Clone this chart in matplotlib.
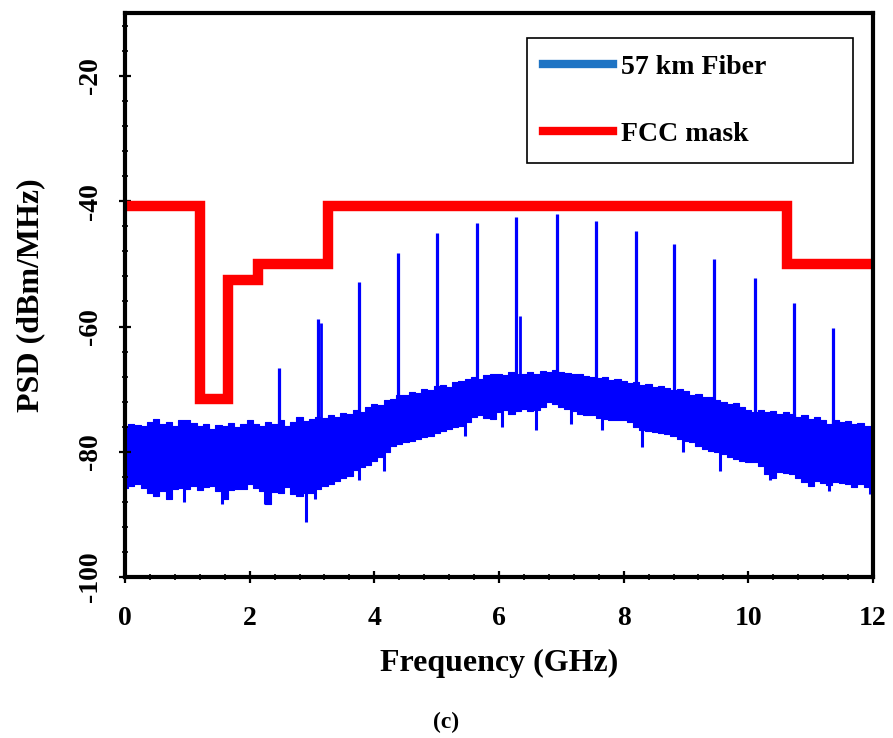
import matplotlib

matplotlib.use("Agg")

import matplotlib.pyplot as plt
import numpy as np
from matplotlib.lines import Line2D
from matplotlib.ticker import MultipleLocator

plt.rcParams["font.family"] = ["Liberation Serif", "DejaVu Serif"]
plt.rcParams["font.weight"] = "bold"
plt.rcParams["axes.unicode_minus"] = False

# noise floor envelope, read every 0.1 GHz from 0 to 12 GHz
freq_grid = np.round(np.arange(0, 12.05, 0.1), 2)
floor_upper = [
    -75.8, -75.6, -75.7, -75.9, -75.3, -74.7, -75.6, -75.2, -75.8, -75.0,
    -74.9, -75.4, -75.8, -75.6, -76.3, -75.7, -75.8, -75.4, -76.0, -75.6,
    -75.0, -75.5, -75.8, -75.2, -75.6, -75.0, -75.9, -75.3, -74.5, -75.1,
    -74.8, -74.4, -74.6, -74.1, -74.5, -73.8, -74.0, -73.3, -73.6, -72.8,
    -72.4, -72.6, -71.8, -71.6, -71.0, -70.9, -70.4, -70.6, -69.9, -70.1,
    -69.5, -69.3, -69.6, -68.8, -68.7, -68.4, -68.1, -68.3, -67.7, -67.5,
    -67.6, -67.8, -67.3, -67.5, -67.6, -67.2, -67.5, -67.1, -67.3, -67.0,
    -67.2, -67.4, -67.6, -67.5, -67.9, -68.0, -68.2, -68.0, -68.5, -68.4,
    -68.7, -69.0, -68.8, -69.3, -69.1, -69.6, -69.5, -69.8, -70.2, -69.9,
    -70.3, -71.0, -70.8, -71.3, -71.2, -71.8, -72.1, -72.4, -72.2, -72.9,
    -73.4, -73.7, -73.3, -73.6, -73.5, -73.9, -73.6, -74.0, -74.4, -74.2,
    -74.7, -74.5, -75.0, -75.6, -74.9, -75.3, -75.1, -75.6, -75.4, -75.8,
    -75.8,
]
floor_lower = [
    -85.7, -85.5, -85.2, -85.8, -86.5, -87.0, -86.2, -87.5, -86.0, -85.8,
    -86.0, -85.4, -86.1, -85.6, -85.5, -86.2, -87.5, -86.1, -85.9, -86.0,
    -85.1, -85.7, -86.3, -88.3, -86.4, -86.6, -85.6, -86.7, -87.0, -86.5,
    -86.6, -85.9, -85.4, -85.2, -84.6, -84.1, -83.8, -82.9, -82.5, -82.1,
    -81.4, -80.8, -80.0, -79.0, -78.8, -78.4, -78.2, -78.0, -77.7, -77.4,
    -77.0, -76.6, -76.4, -76.0, -75.8, -75.2, -74.4, -74.2, -74.6, -74.7,
    -73.6, -73.4, -74.0, -73.5, -73.2, -73.5, -73.4, -72.8, -72.1, -72.3,
    -72.8, -73.1, -73.5, -74.0, -74.2, -74.1, -74.6, -74.8, -75.0, -74.9,
    -75.0, -75.2, -76.0, -76.5, -76.6, -76.8, -77.0, -77.1, -77.4, -78.0,
    -78.2, -78.5, -79.0, -79.5, -79.8, -80.0, -80.3, -80.8, -81.2, -81.4,
    -81.6, -81.7, -82.3, -83.6, -84.1, -83.3, -83.4, -83.5, -84.2, -84.8,
    -85.4, -84.6, -84.9, -85.3, -84.8, -85.0, -85.2, -85.6, -85.1, -85.6,
    -85.8,
]

# narrow downward dips below the floor
dip_freq = [0.95, 1.55, 2.25, 2.90, 3.05, 3.75, 4.15, 5.45, 6.05, 6.60,
            7.15, 7.65, 8.30, 8.95, 9.55, 10.35, 11.30, 11.95]
dip_level = [-88.0, -88.3, -88.4, -91.2, -87.5, -84.5, -83.0, -77.5, -76.0, -76.5,
             -75.5, -76.5, -79.2, -80.0, -83.0, -84.5, -86.2, -86.8]

# UWB tones
tone_freq = [2.47, 3.10, 3.76, 4.38, 5.01, 5.65, 6.28, 6.93, 7.56, 8.20,
             8.81, 9.45, 10.10, 10.74, 11.36]
tone_peak = [-66.6, -58.8, -52.9, -48.3, -45.0, -43.5, -42.5, -42.0, -43.2, -44.7,
             -46.8, -49.2, -52.2, -56.2, -60.3]
side_freq = [3.14, 6.33]
side_peak = [-59.5, -58.3]

# FCC mask (step edges)
mask_freq = [0.0, 1.20, 1.65, 2.13, 3.26, 10.62, 12.0]
mask_level = [-40.8, -71.5, -52.5, -50.0, -40.8, -50.0, -50.0]

fig = plt.figure(figsize=(8.93, 7.38), dpi=100)
ax = fig.add_axes([0.140, 0.218, 0.8376, 0.764])

blue = "#0000ff"
ax.fill_between(freq_grid, floor_lower, floor_upper, step="mid",
                color=blue, linewidth=0.8, edgecolor=blue)
dip_top = np.interp(dip_freq, freq_grid, floor_lower) + 1.0
ax.vlines(dip_freq, dip_level, dip_top, color=blue, linewidth=2.2)
tone_base = np.interp(tone_freq, freq_grid, floor_upper) - 1.0
ax.vlines(tone_freq, tone_base, tone_peak, color=blue, linewidth=2.3)
side_base = np.interp(side_freq, freq_grid, floor_upper) - 1.0
ax.vlines(side_freq, side_base, side_peak, color=blue, linewidth=2.0)

ax.step(mask_freq, mask_level, where="post", color="red", linewidth=7.5,
        solid_joinstyle="miter")

ax.set_xlim(0, 12)
ax.set_ylim(-100, -10)
ax.xaxis.set_major_locator(MultipleLocator(2))
ax.xaxis.set_minor_locator(MultipleLocator(0.4))
ax.set_yticks([-100, -80, -60, -40, -20])
ax.yaxis.set_minor_locator(MultipleLocator(4))

for s in ax.spines.values():
    s.set_linewidth(3)
ax.tick_params(which="major", direction="inout", length=9, width=1.6,
               labelsize=20)
ax.tick_params(which="minor", direction="inout", length=5, width=1.2)
ax.tick_params(axis="x", which="major", pad=16)
ax.tick_params(axis="y", which="major", pad=11)
for lbl in ax.get_yticklabels():
    lbl.set_rotation(90)
    lbl.set_va("center")

ax.set_xlabel("Frequency (GHz)", fontsize=23, fontweight="bold", labelpad=13)
ax.set_ylabel("PSD (dBm/MHz)", fontsize=23, fontweight="bold", labelpad=24)

handles = [
    Line2D([], [], color="#1f74c4", linewidth=6),
    Line2D([], [], color="red", linewidth=6),
]
leg = ax.legend(handles, ["57 km Fiber", "FCC mask"], loc="upper left",
                bbox_to_anchor=(0.537, 0.734, 0.436, 0.223), mode="expand",
                fontsize=20, frameon=True, fancybox=False, framealpha=1,
                edgecolor="black", handlelength=2.5, handletextpad=0.3,
                labelspacing=1.5, borderpad=0.6, borderaxespad=0)
leg.get_frame().set_linewidth(1.2)

fig.text(0.50, 0.021, "(c)", ha="center", va="center", fontsize=17,
         fontweight="bold")

fig.savefig("out.png", dpi=100)
